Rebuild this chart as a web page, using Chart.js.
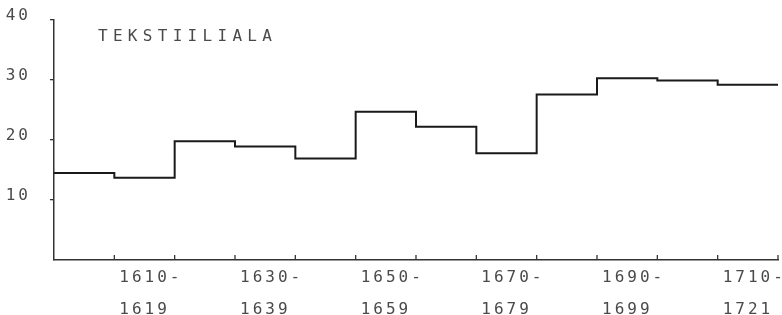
<!DOCTYPE html>
<html>
<head>
<meta charset="utf-8">
<script src="https://cdn.jsdelivr.net/npm/chart.js@4"></script>
<style>
  body { margin: 0; background: #fff; }
</style>
</head>
<body>
<canvas id="chart" width="782" height="315"></canvas>
<script>
// decades (last one 1710-1721)
const periodStart = ['1600', '1610', '1620', '1630', '1640', '1650', '1660', '1670', '1680', '1690', '1700', '1710']
const periodEnd = ['1609', '1619', '1629', '1639', '1649', '1659', '1669', '1679', '1689', '1699', '1709', '1721']
const values = [14.5, 13.7, 19.8, 18.9, 16.9, 24.7, 22.2, 17.8, 27.6, 30.3, 29.9, 29.2]
const yTicks = [10, 20, 30, 40]
const titleText = 'TEKSTIILIALA'

const fontFam = '"DejaVu Sans Mono", monospace'
const textColor = '#4a4a4a'

// step points: value i holds from i to i+1
const points = values.map((v, i) => ({ x: i, y: v }))
points.push({ x: values.length, y: values[values.length - 1] })

// labelled periods: every other one starting at 1610
const labelled = []
for (let i = 1; i < periodStart.length; i += 2) labelled.push(i)

// text spacing like the plotter lettering
const spacing = {
    id: 'spacing',
    beforeInit(chart) { chart.ctx.letterSpacing = '3px' },
    beforeDraw(chart) { chart.ctx.letterSpacing = '3px' }
}

// inward tick marks on the x axis + title
const extras = {
    id: 'extras',
    afterDraw(chart) {
        const ctx = chart.ctx
        const x = chart.scales.x
        const bottom = chart.chartArea.bottom
        ctx.save()
        ctx.strokeStyle = '#333'
        ctx.lineWidth = 1.3
        for (let i = 1; i <= values.length; i++) {
            const px = x.getPixelForValue(i)
            ctx.beginPath()
            ctx.moveTo(px, bottom)
            ctx.lineTo(px, bottom - 5)
            ctx.stroke()
        }
        ctx.fillStyle = textColor
        ctx.font = '16px ' + fontFam
        ctx.letterSpacing = '5.3px'
        ctx.textBaseline = 'middle'
        ctx.textAlign = 'left'
        ctx.fillText(titleText, chart.chartArea.left + 44, chart.chartArea.top + 17)
        ctx.restore()
    }
}

new Chart('chart', {
    type: 'line',
    data: {
        datasets: [{
            data: points,
            stepped: 'before',
            borderColor: '#1a1a1a',
            borderWidth: 2,
            pointRadius: 0,
            fill: false
        }]
    },
    options: {
        responsive: false,
        animation: false,
        layout: { padding: { top: 20, right: 4, left: 0, bottom: 0 } },
        plugins: { legend: { display: false }, tooltip: { enabled: false } },
        scales: {
            x: {
                type: 'linear',
                min: 0,
                max: values.length,
                afterBuildTicks: axis => { axis.ticks = labelled.map(v => ({ value: v })) },
                afterFit: axis => {
                    axis.height = 55
                    axis.paddingLeft = 0
                    axis.paddingRight = 0
                },
                grid: { display: false, tickLength: 0 },
                border: { display: true, color: '#333', width: 1.5 },
                ticks: {
                    align: 'start',
                    autoSkip: false,
                    maxRotation: 0,
                    padding: 2,
                    labelOffset: 5,
                    color: textColor,
                    font: { family: fontFam, size: 16, lineHeight: 2 },
                    callback: v => [periodStart[v] + '-', periodEnd[v]]
                }
            },
            y: {
                min: 0,
                max: 40,
                afterBuildTicks: axis => { axis.ticks = yTicks.map(v => ({ value: v })) },
                afterFit: axis => {
                    axis.width = 54
                    axis.paddingTop = 0
                    axis.paddingBottom = 0
                },
                grid: { drawOnChartArea: false, tickLength: 4, color: '#333', lineWidth: 1.3 },
                border: { display: true, color: '#333', width: 1.5 },
                ticks: {
                    padding: 19,
                    labelOffset: -4,
                    color: textColor,
                    font: { family: fontFam, size: 16 }
                }
            }
        }
    },
    plugins: [spacing, extras]
})
</script>
</body>
</html>
